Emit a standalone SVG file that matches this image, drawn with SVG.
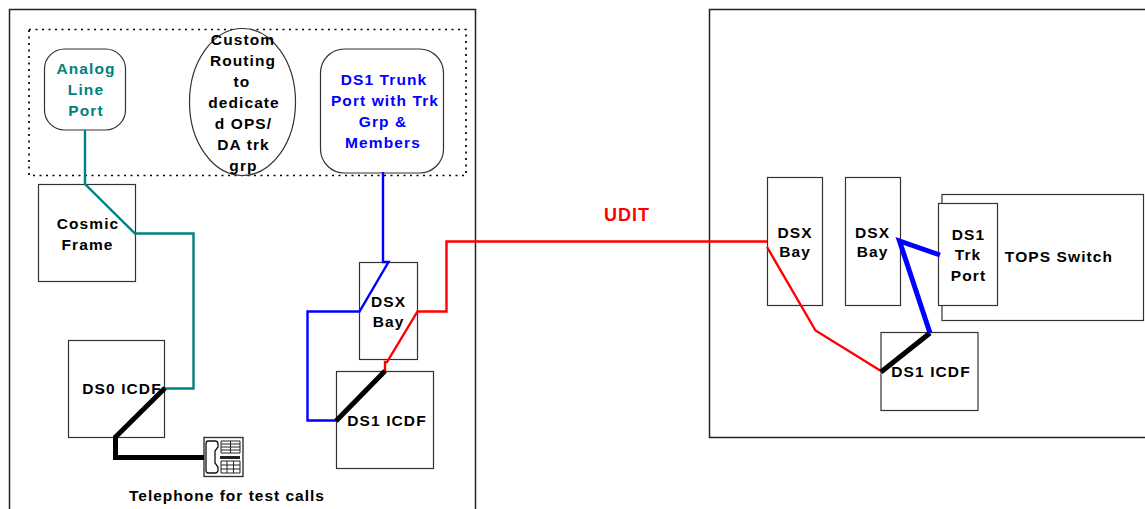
<svg xmlns="http://www.w3.org/2000/svg" width="1145" height="509" viewBox="0 0 1145 509">
<style>
text{font-family:"Liberation Sans",Arial,sans-serif;font-weight:700;font-size:15.5px;letter-spacing:1.1px;text-anchor:middle;fill:#000}
.b{fill:#fff;stroke:#333;stroke-width:1.2}
.t{fill:#008080}.u{fill:#0000ff}
.c{fill:none;stroke-linejoin:miter}
.teal{stroke:#008080;stroke-width:2.4}
.blue{stroke:#0000ff;stroke-width:2.4}
.red{stroke:#ff0000;stroke-width:2.4}
.blk{stroke:#000;stroke-width:5}
.blu2{stroke:#0000ff;stroke-width:5}
</style>
<rect width="1145" height="509" fill="#fff"/>
<g id="site-left"><path d="M9.500 509V9.500H475.500V509" fill="none" stroke="#222" stroke-width="1.500"/></g>
<g id="site-right"><path d="M1145 9.500H709.500V437.500H1145" fill="none" stroke="#222" stroke-width="1.500"/></g>
<g id="group-dotted"><rect x="29" y="29.500" width="437" height="146" fill="none" stroke="#000" stroke-width="1.700" stroke-dasharray="2 4.500"/></g>
<g id="analog-port"><rect class="b" x="44.500" y="49" width="81" height="81" rx="20"/>
<text class="t" x="86" y="74">Analog</text><text class="t" x="86" y="95">Line</text><text class="t" x="86" y="116">Port</text></g>
<g id="custom-routing"><ellipse class="b" cx="242.500" cy="102" rx="53" ry="73.500"/>
<text x="243" y="45">Custom</text><text x="243" y="66">Routing</text><text x="242" y="87">to</text><text x="244" y="108">dedicate</text><text x="243.500" y="129">d OPS/</text><text x="243.500" y="150">DA trk</text><text x="243.500" y="171">grp</text></g>
<g id="ds1-trunk-port"><rect class="b" x="320.500" y="49" width="123" height="124" rx="24"/>
<text class="u" x="384" y="85">DS1 Trunk</text><text class="u" x="385" y="106">Port with Trk</text><text class="u" x="383" y="127">Grp &amp;</text><text class="u" x="383" y="148">Members</text></g>
<g id="cosmic-frame"><rect class="b" x="38.500" y="184.500" width="97" height="97"/>
<text x="88" y="229">Cosmic</text><text x="87.500" y="250">Frame</text></g>
<g id="ds0-icdf"><rect class="b" x="68.500" y="340.500" width="96" height="97"/>
<text x="122" y="394">DS0 ICDF</text></g>
<g id="dsx-left"><rect class="b" x="359.500" y="262.500" width="58" height="97"/>
<text x="388.500" y="307">DSX</text><text x="388.500" y="327">Bay</text></g>
<g id="ds1-icdf-left"><rect class="b" x="336.500" y="371.500" width="97" height="97"/>
<text x="387" y="426">DS1 ICDF</text></g>
<g id="dsx-right-1"><rect class="b" x="767.500" y="177.500" width="55" height="128"/>
<text x="795" y="238">DSX</text><text x="795" y="257">Bay</text></g>
<g id="dsx-right-2"><rect class="b" x="845.500" y="177.500" width="55" height="128"/>
<text x="872.500" y="238">DSX</text><text x="872.500" y="257">Bay</text></g>
<g id="tops-switch"><rect class="b" x="942" y="194.500" width="201.500" height="126"/>
<text x="1059" y="262">TOPS Switch</text></g>
<g id="ds1-trk-port"><rect class="b" x="938.500" y="203.500" width="59" height="102"/>
<text x="968.500" y="240">DS1</text><text x="968" y="260">Trk</text><text x="968.500" y="281">Port</text></g>
<g id="ds1-icdf-right"><rect class="b" x="881" y="332.500" width="97" height="78"/>
<text x="931" y="377">DS1 ICDF</text></g>
<g id="telephone">
<rect x="204" y="437.500" width="39" height="39" fill="#fff" stroke="#333" stroke-width="1.400"/>
<path d="M208 441H215Q218 441 218 444V447L215 451V463L218 467V470Q218 473 215 473H208Q206 473 206 470V444Q206 441 208 441Z" fill="#fff" stroke="#111" stroke-width="1.300"/>
<path d="M221 441H240M221 444H240M221 447H240M221 450H240M221 453H240M230.500 441V453M221 441V453M240 441V453" fill="none" stroke="#222" stroke-width="1"/>
<rect x="220" y="456" width="20" height="3" fill="#222"/>
<path d="M221 461H240M221 465H240M221 469H240M221 473H240M227 461V473M233.500 461V473M221 461V473M240 461V473" fill="none" stroke="#222" stroke-width="1"/>
</g>
<g id="connectors">
<path class="c teal" d="M85 130V184L135 233.500H193.500V388.500H165"/>
<path class="c blue" d="M383 172V262L388.500 262L359.500 311.500H307.500V420.500H336"/>
<path class="c red" d="M385 371V362H387L417.500 311.500H446.500V241.500H767"/>
<path class="c red" d="M767 247L815.500 330.500L881 371"/>
<path class="c blk" d="M165 388L115.500 437V457.500H204"/>
<path class="c blk" d="M336 421L385 371"/>
<path class="c blk" d="M881 372L930 333"/>
<path class="c blu2" d="M940 255L899.500 241L930 333"/>
</g>
<text x="627" y="221" style="fill:#ff0000;font-size:18px;letter-spacing:1px">UDIT</text>
<text x="227" y="501" style="letter-spacing:1px">Telephone for test calls</text>
</svg>
